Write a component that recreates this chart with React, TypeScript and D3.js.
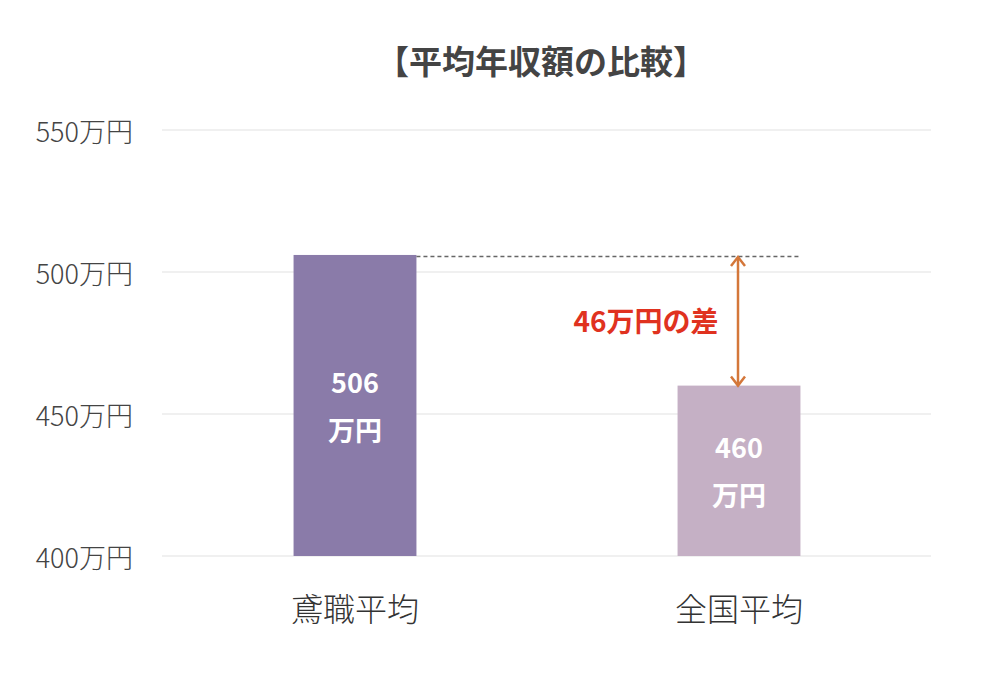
import { useEffect, useRef } from "react"
import * as d3 from "d3"

// chart data
const categories = ["鳶職平均", "全国平均"]
const values = [506, 460]
const barColors = ["#8a7ba9", "#c5b0c5"]
const yTicks = [400, 450, 500, 550]
const title = "【平均年収額の比較】"
const diffLabel = "46万円の差"

const W = 1000
const H = 676
const FONT = "'Noto Sans CJK JP', 'Noto Sans', sans-serif"

const App = () => {
  const svgRef = useRef<SVGSVGElement | null>(null)

  useEffect(() => {
    if (!svgRef.current) return
    const svg = d3.select(svgRef.current)
    svg.selectAll("*").remove()

    const margin = { top: 130, right: 69, bottom: 120, left: 163 }
    const width = W - margin.left - margin.right
    const height = H - margin.top - margin.bottom

    const x = d3.scaleBand<string>().domain(categories).range([0, width]).paddingInner(0.68).paddingOuter(0.34)
    const y = d3.scaleLinear().domain([400, 550]).range([height, 0])

    const g = svg.append("g").attr("transform", `translate(${margin.left},${margin.top})`)

    // title
    svg
      .append("text")
      .attr("x", 541)
      .attr("y", 60)
      .attr("text-anchor", "middle")
      .attr("dominant-baseline", "central")
      .attr("font-family", FONT)
      .attr("font-weight", 700)
      .attr("font-size", 33)
      .attr("fill", "#444")
      .text(title)

    // grid lines
    g.selectAll(".grid")
      .data(yTicks)
      .enter()
      .append("line")
      .attr("x1", -1)
      .attr("x2", width)
      .attr("y1", (d) => y(d))
      .attr("y2", (d) => y(d))
      .attr("stroke", "#e2e2e2")
      .attr("stroke-width", 1.2)

    // y tick labels
    g.selectAll(".ytick")
      .data(yTicks)
      .enter()
      .append("text")
      .attr("x", -30)
      .attr("y", (d) => y(d))
      .attr("text-anchor", "end")
      .attr("dominant-baseline", "central")
      .attr("font-family", FONT)
      .attr("font-weight", 300)
      .attr("font-size", 27)
      .attr("fill", "#444")
      .text((d) => `${d}万円`)

    // bars
    g.selectAll(".bar")
      .data(values)
      .enter()
      .append("rect")
      .attr("x", (_, i) => x(categories[i]) ?? 0)
      .attr("y", (d) => y(d))
      .attr("width", x.bandwidth())
      .attr("height", (d) => height - y(d))
      .attr("fill", (_, i) => barColors[i])

    // value labels inside the bars
    values.forEach((v, i) => {
      const cx = (x(categories[i]) ?? 0) + x.bandwidth() / 2
      const mid = (y(v) + height) / 2
      ;[`${v}`, "万円"].forEach((t, j) => {
        g.append("text")
          .attr("x", cx)
          .attr("y", mid - 24 + j * 48)
          .attr("text-anchor", "middle")
          .attr("dominant-baseline", "central")
          .attr("font-family", FONT)
          .attr("font-weight", 700)
          .attr("font-size", 27)
          .attr("fill", "#fff")
          .text(t)
      })
    })

    // category labels
    categories.forEach((c) => {
      g.append("text")
        .attr("x", (x(c) ?? 0) + x.bandwidth() / 2)
        .attr("y", height + 51)
        .attr("text-anchor", "middle")
        .attr("dominant-baseline", "central")
        .attr("font-family", FONT)
        .attr("font-weight", 300)
        .attr("font-size", 32)
        .attr("fill", "#333")
        .text(c)
    })

    // dashed reference line from top of first bar
    const x0 = (x(categories[0]) ?? 0) + x.bandwidth()
    const x1 = (x(categories[1]) ?? 0) + x.bandwidth()
    g.append("line")
      .attr("x1", x0)
      .attr("x2", x1)
      .attr("y1", y(values[0]) + 1.5)
      .attr("y2", y(values[0]) + 1.5)
      .attr("stroke", "#666")
      .attr("stroke-width", 1.5)
      .attr("stroke-dasharray", "4,3")

    // double-headed arrow showing difference
    const ax = (x(categories[1]) ?? 0) + x.bandwidth() / 2 - 1
    const ya = y(values[0]) + 2
    const yb = y(values[1])
    const arrowColor = "#d4773a"
    g.append("line")
      .attr("x1", ax)
      .attr("x2", ax)
      .attr("y1", ya + 1)
      .attr("y2", yb - 1)
      .attr("stroke", arrowColor)
      .attr("stroke-width", 2.5)
    g.append("path")
      .attr("d", `M${ax - 7},${ya + 9} L${ax},${ya} L${ax + 7},${ya + 9}`)
      .attr("fill", "none")
      .attr("stroke", arrowColor)
      .attr("stroke-width", 2.5)
    g.append("path")
      .attr("d", `M${ax - 7},${yb - 9} L${ax},${yb} L${ax + 7},${yb - 9}`)
      .attr("fill", "none")
      .attr("stroke", arrowColor)
      .attr("stroke-width", 2.5)

    // difference label
    g.append("text")
      .attr("x", ax - 92)
      .attr("y", (ya + yb) / 2 - 1)
      .attr("text-anchor", "middle")
      .attr("dominant-baseline", "central")
      .attr("font-family", FONT)
      .attr("font-weight", 700)
      .attr("font-size", 28)
      .attr("fill", "#e0321f")
      .text(diffLabel)
  }, [])

  return (
    <div style={{ width: W, height: H, margin: -8, background: "#fff" }}>
      <svg ref={svgRef} width={W} height={H} style={{ display: "block" }}></svg>
    </div>
  )
}

export default App
